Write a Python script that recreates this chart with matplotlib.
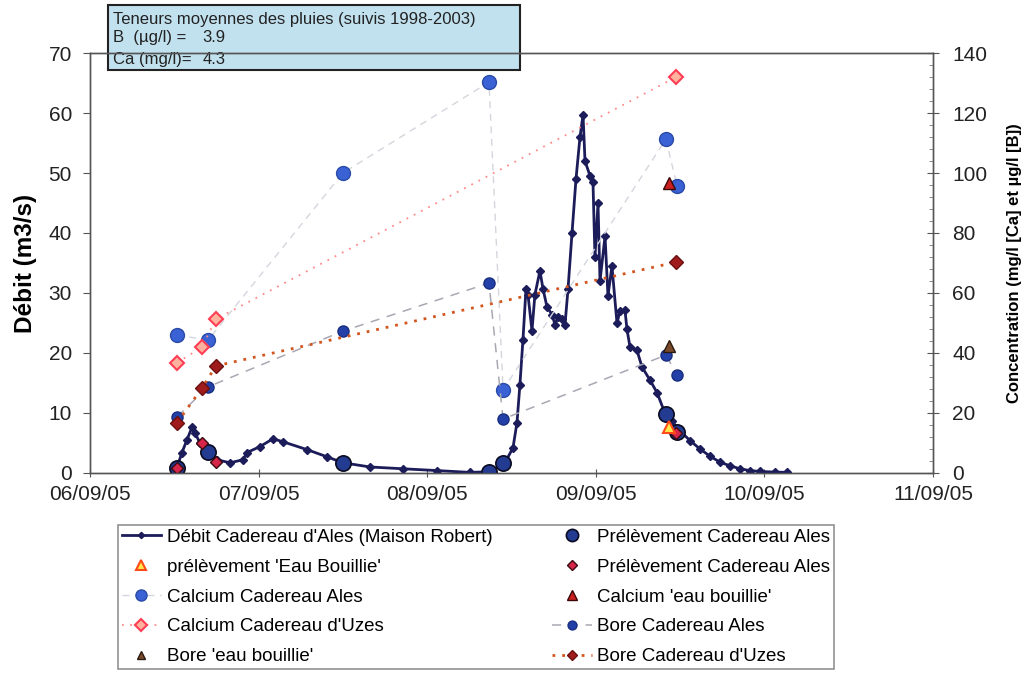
import numpy as np
import pandas as pd
import matplotlib
matplotlib.use("Agg")
import matplotlib.pyplot as plt
import matplotlib.dates as mdates
from matplotlib.patches import Rectangle

plt.rcParams['font.family'] = ['Liberation Sans', 'DejaVu Sans']

# --- Débit Cadereau d'Ales (Maison Robert), m3/s ---
debit_time = [
    "2005-09-06 12:06", "2005-09-06 12:23", "2005-09-06 13:06", "2005-09-06 13:48",
    "2005-09-06 14:31", "2005-09-06 14:57", "2005-09-06 15:39", "2005-09-06 16:48",
    "2005-09-06 18:05", "2005-09-06 19:56", "2005-09-06 21:47", "2005-09-06 22:21",
    "2005-09-07 00:12", "2005-09-07 02:03", "2005-09-07 03:29", "2005-09-07 06:53",
    "2005-09-07 09:44", "2005-09-07 12:01", "2005-09-07 15:52", "2005-09-07 20:33",
    "2005-09-08 01:24", "2005-09-08 06:05", "2005-09-08 08:56", "2005-09-08 11:04",
    "2005-09-08 12:13", "2005-09-08 12:47", "2005-09-08 13:12", "2005-09-08 13:38",
    "2005-09-08 14:04", "2005-09-08 14:21", "2005-09-08 14:55", "2005-09-08 15:20",
    "2005-09-08 16:03", "2005-09-08 16:29", "2005-09-08 17:03", "2005-09-08 17:46",
    "2005-09-08 18:12", "2005-09-08 18:37", "2005-09-08 19:12", "2005-09-08 19:37",
    "2005-09-08 20:03", "2005-09-08 20:37", "2005-09-08 21:11", "2005-09-08 21:45",
    "2005-09-08 22:11", "2005-09-08 22:28", "2005-09-08 23:11", "2005-09-08 23:36",
    "2005-09-08 23:53", "2005-09-09 00:19", "2005-09-09 00:36", "2005-09-09 01:19",
    "2005-09-09 01:44", "2005-09-09 02:18", "2005-09-09 03:01", "2005-09-09 03:27",
    "2005-09-09 04:09", "2005-09-09 04:26", "2005-09-09 04:52", "2005-09-09 05:51",
    "2005-09-09 06:34", "2005-09-09 07:42", "2005-09-09 08:43", "2005-09-09 09:50",
    "2005-09-09 10:51", "2005-09-09 11:59", "2005-09-09 13:25", "2005-09-09 14:50",
    "2005-09-09 16:15", "2005-09-09 17:41", "2005-09-09 19:06", "2005-09-09 20:31",
    "2005-09-09 21:57", "2005-09-09 23:22", "2005-09-10 01:30", "2005-09-10 03:13",
]
debit_value = [
    0.3, 0.9, 3.4, 5.5, 7.6, 6.7, 5.0, 3.5,
    2.2, 1.7, 2.2, 3.4, 4.4, 5.7, 5.2, 3.9,
    2.7, 1.7, 1.0, 0.7, 0.4, 0.1, 0.2, 1.7,
    4.2, 8.4, 14.7, 22.2, 30.7, 29.7, 23.7, 29.7,
    33.7, 30.7, 27.7, 26.4, 24.7, 26.0, 25.7, 24.7,
    30.7, 40.0, 49.0, 56.0, 59.7, 52.0, 49.5, 48.5,
    36.0, 45.0, 32.0, 39.5, 29.5, 34.5, 25.0, 27.0,
    27.2, 24.0, 21.0, 20.5, 17.7, 15.5, 13.4, 10.0,
    8.6, 7.0, 5.4, 4.0, 2.8, 1.8, 1.2, 0.7,
    0.4, 0.25, 0.15, 0.1,
]

# --- sampling times ---
ales_time = ["2005-09-06 12:23", "2005-09-06 16:48", "2005-09-07 12:00", "2005-09-08 08:48",
             "2005-09-08 10:48", "2005-09-09 09:59", "2005-09-09 11:34"]
uzes_time = ["2005-09-06 12:23", "2005-09-06 15:57", "2005-09-06 17:56", "2005-09-09 11:26"]
bouillie_time = ["2005-09-09 10:25"]

# débit at sampling times
ales_debit = [0.9, 3.5, 1.7, 0.2, 1.7, 9.8, 6.8]
uzes_debit = [0.9, 5.0, 1.8, 6.7]
bouillie_debit = [7.7]

# concentrations (mg/l Ca, µg/l B)
ca_ales = [46.0, 44.3, 100.0, 130.3, 27.7, 111.3, 95.7]
b_ales = [18.7, 28.7, 47.3, 63.3, 18.0, 39.3, 32.7]
ca_uzes = [36.7, 42.0, 51.3, 132.0]
b_uzes = [16.7, 28.3, 35.7, 70.3]
ca_bouillie = [96.7]
b_bouillie = [42.3]

t = pd.to_datetime(debit_time)
ta = pd.to_datetime(ales_time)
tu = pd.to_datetime(uzes_time)
tb = pd.to_datetime(bouillie_time)

fig = plt.figure(figsize=(10.28, 6.78), dpi=100)
ax = fig.add_axes([0.0875, 0.3024, 0.8201, 0.6194])
ax2 = ax.twinx()

# left axis: débit
l_debit, = ax.plot(t, debit_value, color='#1c1c5a', lw=2.0, marker='D', ms=4,
                   label="Débit Cadereau d'Ales (Maison Robert)", zorder=3)
l_prel, = ax.plot(ta, ales_debit, ls='none', marker='o', ms=11, mfc='#233c92',
                  mec='#0a0a20', mew=1.2, label='Prélèvement Cadereau Ales', zorder=4)
l_prel_u, = ax.plot(tu, uzes_debit, ls='none', marker='D', ms=6.5, mfc='#d6264a',
                    mec='#3a0a10', mew=1.0, label='Prélèvement Cadereau Ales', zorder=5)
l_eb, = ax.plot(tb, bouillie_debit, ls='none', marker='^', ms=9, mfc='#ffe84a',
                mec='#ff4a1a', mew=1.5, label="prélèvement 'Eau Bouillie'", zorder=5)

# right axis: concentrations
l_ca_a, = ax2.plot(ta, ca_ales, color='#d4d6de', lw=1.0, ls=(0, (5, 4)), marker='o', ms=10,
                   mfc='#3a62d4', mec='#2a4aa8', label='Calcium Cadereau Ales')
l_b_a, = ax2.plot(ta, b_ales, color='#a8a8b4', lw=1.1, ls=(0, (6, 5)), marker='o', ms=8,
                  mfc='#2340a8', mec='#1a2f80', label='Bore Cadereau Ales')
l_ca_u, = ax2.plot(tu, ca_uzes, color='#ff8a8a', lw=1.3, ls=(0, (1, 3.5)), marker='D', ms=7.5,
                   mfc='#ffb39e', mec='#ff3d55', mew=1.5, label="Calcium Cadereau d'Uzes")
l_b_u, = ax2.plot(tu, b_uzes, color='#d2561e', lw=2.0, ls=(0, (1, 2.5)), marker='D', ms=7,
                  mfc='#a01c1c', mec='#6a1010', label="Bore Cadereau d'Uzes")
l_ca_b, = ax2.plot(tb, ca_bouillie, ls='none', marker='^', ms=9, mfc='#cc2020',
                   mec='#3a0808', mew=1.0, label="Calcium 'eau bouillie'")
l_b_b, = ax2.plot(tb, b_bouillie, ls='none', marker='^', ms=8, mfc='#7a4a2c',
                  mec='#2a1a10', mew=1.0, label="Bore 'eau bouillie'")

# axes formatting
ax.set_xlim(pd.Timestamp("2005-09-06"), pd.Timestamp("2005-09-11"))
ax.xaxis.set_major_locator(mdates.DayLocator())
ax.xaxis.set_major_formatter(mdates.DateFormatter('%d/%m/%y'))
ax.set_ylim(0, 70)
ax.set_yticks(np.arange(0, 71, 10))
ax2.set_ylim(0, 140)
ax2.set_yticks(np.arange(0, 141, 20))
ax2.set_yticks(np.arange(0, 141, 4), minor=True)

for a in (ax, ax2):
    for s in a.spines.values():
        s.set_color('#555555')
        s.set_linewidth(1.0)
ax.tick_params(axis='x', labelsize=15, direction='inout', length=6, colors='#555555',
               labelcolor='#222222', pad=6)
ax.tick_params(axis='y', labelsize=15, direction='out', length=5, colors='#555555',
               labelcolor='#222222', pad=8)
ax2.tick_params(axis='y', which='major', labelsize=15, direction='inout', length=8,
                colors='#555555', labelcolor='#222222', pad=10)
ax2.tick_params(axis='y', which='minor', direction='in', length=3, colors='#777777')

ax.set_ylabel('Débit (m3/s)', fontsize=17.5, fontweight='bold', labelpad=8)
ax2.set_ylabel('Concentration (mg/l [Ca] et µg/l [B])', fontsize=12, fontweight='bold',
               labelpad=14)

# rain content box
box = Rectangle((0.105, 0.8968), 0.401, 0.0959, transform=fig.transFigure,
                facecolor='#c2e1ef', edgecolor='#222222', lw=1.5, zorder=2, clip_on=False)
ax.add_patch(box)
txt_kw = dict(transform=fig.transFigure, fontsize=12, va='center', zorder=2.6, color='#222222')
ax.text(0.110, 0.9710, 'Teneurs moyennes des pluies (suivis 1998-2003)', **txt_kw)
ax.text(0.110, 0.9445, 'B  (µg/l) =', **txt_kw)
ax.text(0.197, 0.9445, '3.9', **txt_kw)
ax.text(0.110, 0.9120, 'Ca (mg/l)=', **txt_kw)
ax.text(0.197, 0.9120, '4.3', **txt_kw)

handles = [l_debit, l_eb, l_ca_a, l_ca_u, l_b_b,
           l_prel, l_prel_u, l_ca_b, l_b_a, l_b_u]
leg = fig.legend(handles, [h.get_label() for h in handles], ncol=2, loc='upper left',
                 bbox_to_anchor=(0.1148, 0.2257), fontsize=13.5, frameon=True,
                 fancybox=False, edgecolor='#777777', handlelength=2.1, handletextpad=0.3,
                 labelspacing=0.68, borderpad=0.2, columnspacing=3.2, markerscale=0.8,
                 borderaxespad=0)
leg.get_frame().set_linewidth(1.2)

fig.savefig('out.png', dpi=100)
